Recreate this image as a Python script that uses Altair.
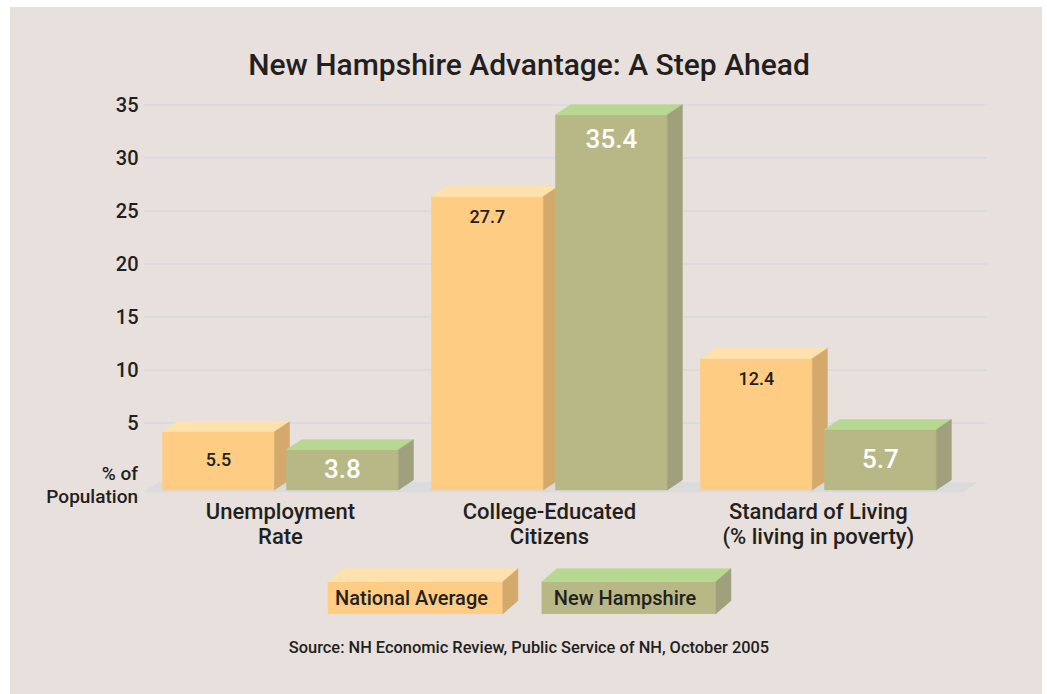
import altair as alt
import pandas as pd

# ---- data -----------------------------------------------------------------
categories = ["Unemployment\nRate", "College-Educated\nCitizens",
              "Standard of Living\n(% living in poverty)"]
series_names = ["National Average", "New Hampshire"]
national_average = [5.5, 27.7, 12.4]
new_hampshire = [3.8, 35.4, 5.7]
y_ticks = [5, 10, 15, 20, 25, 30, 35]

title_text = "New Hampshire Advantage: A Step Ahead"
source_text = "Source: NH Economic Review, Public Service of NH, October 2005"
y_title_lines = ["% of", "Population"]

# ---- style ----------------------------------------------------------------
FONT = "Roboto, sans-serif"
WEIGHT = 500
INK = "#231f20"
BG = "#e7e0dc"
GRID = "#d9dcdf"
FLOOR = "#d9dbdd"
# front, top, side faces of the 3-D boxes
palette = {
    "National Average": ("#fecd83", "#ffe1ad", "#d3aa6b"),
    "New Hampshire": ("#b8b886", "#b7d891", "#a0a07d"),
}
label_style = {
    "National Average": dict(color=INK, size=18, inset=2.0),
    "New Hampshire": dict(color="#ffffff", size=26, inset=2.4),
}
legend_text_dx = {"National Average": 7, "New Hampshire": 12}

# ---- layout (axis units unless noted) -------------------------------------
PLOT_W, PLOT_H = 844, 371
X_DOMAIN = [-0.511, 2.627]
Y_DOMAIN = [0, 35]
BAR_W = 0.416
GAP = 0.045
DEPTH_X = 0.056
DEPTH_Y = 0.95
FRONT_SHIFT = 14          # px: the bars stand in front of the grid plane
FLOOR_X = (-0.511, 2.537)
FLOOR_Y = -0.22
LEGEND_X = {"National Average": (0.177, 0.827), "New Hampshire": (0.972, 1.619)}
LEGEND_Y = (-12.99, -9.97)
LEGEND_DEPTH_Y = 1.23

# ---- tables ---------------------------------------------------------------
bar_rows = []
for i, cat in enumerate(categories):
    for name, vals in zip(series_names, [national_average, new_hampshire]):
        left = i - GAP / 2 - BAR_W if name == series_names[0] else i + GAP / 2
        bar_rows.append(dict(series=name, idx=i, left=left, right=left + BAR_W,
                             center=left + BAR_W / 2, base=0.0, value=vals[i]))
bars = pd.DataFrame(bar_rows)


def box_faces(key, series, left, right, bottom, top, dx, dy):
    """Vertices of the top and right-hand faces of a box, as area strips."""
    rows = []
    for x, lo, hi in [(left, top, top), (left + dx, top, top + dy),
                      (right, top, top + dy), (right + dx, top + dy, top + dy)]:
        rows.append(dict(face=f"{key}-top", part="top", series=series, x=x, ylo=lo, yhi=hi))
    for x, lo, hi in [(right, bottom, top), (right + dx, bottom + dy, top + dy)]:
        rows.append(dict(face=f"{key}-side", part="side", series=series, x=x, ylo=lo, yhi=hi))
    return rows


bar_faces = pd.DataFrame([r for b in bar_rows for r in box_faces(
    f"{b['series']}-{b['idx']}", b["series"], b["left"], b["right"],
    b["base"], b["value"], DEPTH_X, DEPTH_Y)])

legend = pd.DataFrame([dict(series=n, left=LEGEND_X[n][0], right=LEGEND_X[n][1],
                            bottom=LEGEND_Y[0], top=LEGEND_Y[1],
                            mid=(LEGEND_Y[0] + LEGEND_Y[1]) / 2) for n in series_names])
legend_faces = pd.DataFrame([r for _, l in legend.iterrows() for r in box_faces(
    f"legend-{l['series']}", l["series"], l["left"], l["right"],
    l["bottom"], l["top"], DEPTH_X, LEGEND_DEPTH_Y)])

floor = pd.DataFrame([
    dict(x=FLOOR_X[0], ylo=FLOOR_Y, yhi=FLOOR_Y),
    dict(x=FLOOR_X[0] + DEPTH_X, ylo=FLOOR_Y, yhi=FLOOR_Y + DEPTH_Y),
    dict(x=FLOOR_X[1], ylo=FLOOR_Y, yhi=FLOOR_Y + DEPTH_Y),
    dict(x=FLOOR_X[1] + DEPTH_X, ylo=FLOOR_Y + DEPTH_Y, yhi=FLOOR_Y + DEPTH_Y),
])

cat_lines = pd.DataFrame([dict(idx=i, line1=c.split("\n")[0], line2=c.split("\n")[1])
                          for i, c in enumerate(categories)])

# ---- encodings --------------------------------------------------------------
xs = alt.Scale(domain=X_DOMAIN, nice=False, zero=False)
ys = alt.Scale(domain=Y_DOMAIN, nice=False)
y_axis = alt.Axis(values=y_ticks, grid=False, domain=False, ticks=False, title=None,
                  labelFont=FONT, labelFontSize=20, labelFontWeight=WEIGHT,
                  labelColor=INK, labelPadding=5, zindex=1)


def X(field):
    return alt.X(field, type="quantitative", scale=xs, axis=None)


def Y(field):
    return alt.Y(field, type="quantitative", scale=ys, axis=y_axis)


one = pd.DataFrame({"k": [0]})

layers = [
    alt.Chart(one).mark_rect(color=BG).encode(
        x=alt.value(-133), x2=alt.value(899), y=alt.value(-98), y2=alt.value(589)),
    alt.Chart(pd.DataFrame({"tick": y_ticks})).mark_rule(color=GRID, strokeWidth=2).encode(
        y=Y("tick"), x=alt.value(1), x2=alt.value(PLOT_W)),
    alt.Chart(floor).mark_area(orient="vertical", color=FLOOR, yOffset=FRONT_SHIFT,
                               y2Offset=FRONT_SHIFT).encode(
        x=X("x"), y=Y("ylo"), y2="yhi"),
]

for name in series_names:
    front, top, side = palette[name]
    sel = alt.datum.series == name
    layers += [
        alt.Chart(bars).transform_filter(sel).mark_rect(
            color=front, stroke=front, strokeWidth=0.5,
            yOffset=FRONT_SHIFT, y2Offset=FRONT_SHIFT).encode(
            x=X("left"), x2="right", y=Y("base"), y2="value"),
    ]
    for part, col in [("top", top), ("side", side)]:
        layers.append(
            alt.Chart(bar_faces).transform_filter(sel).transform_filter(
                alt.datum.part == part).mark_area(
                orient="vertical", color=col, stroke=col, strokeWidth=0.5,
                yOffset=FRONT_SHIFT, y2Offset=FRONT_SHIFT).encode(
                x=X("x"), y=Y("ylo"), y2="yhi", detail="face:N"))
    st = label_style[name]
    layers.append(
        alt.Chart(bars).transform_filter(sel).transform_calculate(
            label_y=f"datum.value < 8 ? datum.value / 2 : datum.value - {st['inset']}"
        ).mark_text(font=FONT, fontSize=st["size"], fontWeight=WEIGHT, color=st["color"],
                    baseline="middle", yOffset=FRONT_SHIFT).encode(
            x=X("center"), y=Y("label_y"), text=alt.Text("value:Q", format=".1f")))

    # legend box for this series
    layers += [
        alt.Chart(legend).transform_filter(sel).mark_rect(
            color=front, stroke=front, strokeWidth=0.5).encode(
            x=X("left"), x2="right", y=Y("bottom"), y2="top"),
    ]
    for part, col in [("top", top), ("side", side)]:
        layers.append(
            alt.Chart(legend_faces).transform_filter(sel).transform_filter(
                alt.datum.part == part).mark_area(
                orient="vertical", color=col, stroke=col, strokeWidth=0.5).encode(
                x=X("x"), y=Y("ylo"), y2="yhi", detail="face:N"))
    layers.append(
        alt.Chart(legend).transform_filter(sel).mark_text(
            font=FONT, fontSize=20, fontWeight=WEIGHT, color=INK, align="left",
            baseline="middle", dx=legend_text_dx[name], dy=1).encode(
            x=X("left"), y=Y("mid"), text="series:N"))

# category labels under each group
for field, ypix in [("line1", 414), ("line2", 439)]:
    layers.append(
        alt.Chart(cat_lines).mark_text(font=FONT, fontSize=22, fontWeight=WEIGHT,
                                       color=INK, baseline="alphabetic").encode(
            x=X("idx"), y=alt.value(ypix), text=f"{field}:N"))

# y-axis caption
for line, ypix in zip(y_title_lines, [375, 398]):
    layers.append(
        alt.Chart(one).mark_text(font=FONT, fontSize=19, fontWeight=WEIGHT, color=INK,
                                 align="right", baseline="alphabetic", text=line).encode(
            x=alt.value(-5), y=alt.value(ypix)))

# title and source note
layers += [
    alt.Chart(one).mark_text(font=FONT, fontSize=30, fontWeight=WEIGHT, color=INK,
                             baseline="alphabetic", text=title_text).encode(
        x=alt.value(386), y=alt.value(-30)),
    alt.Chart(one).mark_text(font=FONT, fontSize=16.4, fontWeight=WEIGHT, color=INK,
                             baseline="alphabetic", text=source_text).encode(
        x=alt.value(386), y=alt.value(548)),
]

chart = alt.layer(*layers).properties(
    width=PLOT_W, height=PLOT_H, autosize="none",
    padding={"left": 143, "top": 105, "right": 60, "bottom": 218},
).configure(background="white").configure_view(stroke=None)

chart.save("out.html", embed_options={"renderer": "svg", "actions": False})
